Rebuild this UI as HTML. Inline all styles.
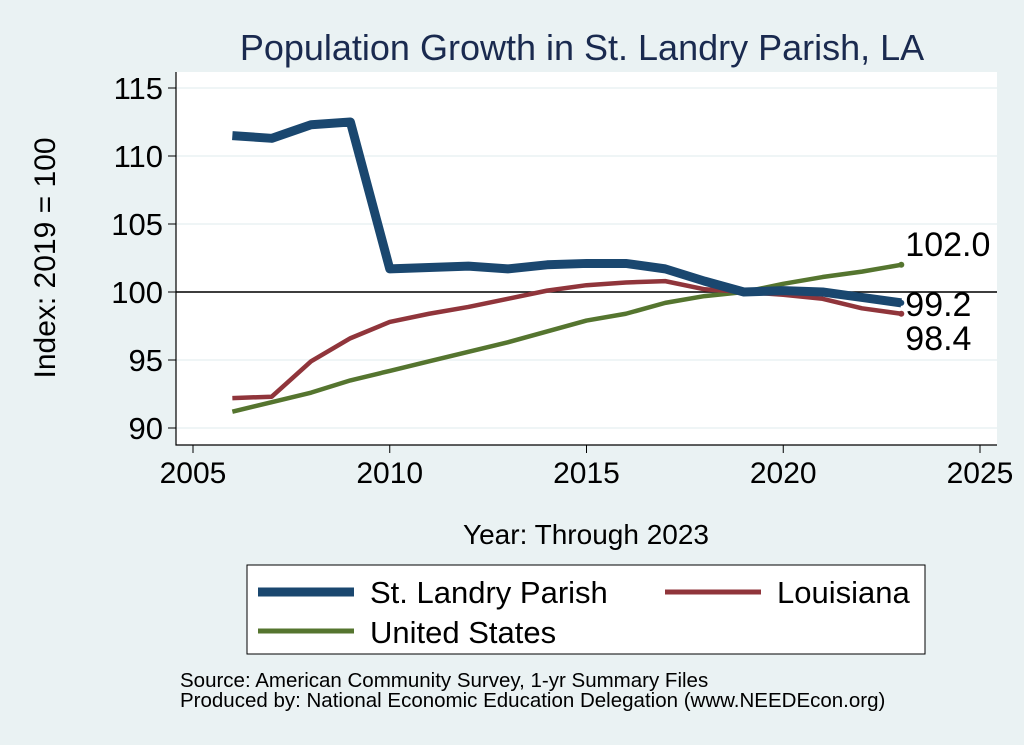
<!DOCTYPE html>
<html><head><meta charset="utf-8"><style>
body{margin:0;background:#eaf2f3;font-family:"Liberation Sans",sans-serif}
svg{display:block}
</style></head><body>
<svg id="c" width="1024" height="745">
<rect width="1024" height="745" fill="#eaf2f3"/>
<text x="582" y="60" font-size="36" fill="#1a2a4f" text-anchor="middle">Population Growth in St. Landry Parish, LA</text>
<rect x="176" y="72" width="821" height="373" fill="#fff"/>
<g id="grid"></g><g id="axes"></g><g id="series"></g>
<text transform="translate(55,258) rotate(-90)" font-size="30" text-anchor="middle">Index: 2019 = 100</text>
<text x="586" y="544" font-size="28" text-anchor="middle">Year: Through 2023</text>
<g>
<rect x="247" y="565" width="678" height="89" fill="#fff" stroke="#000" stroke-width="1"/>
<line x1="258" y1="592" x2="354" y2="592" stroke="#1a476f" stroke-width="9"/>
<text x="370" y="603" font-size="31">St. Landry Parish</text>
<line x1="665" y1="592" x2="761" y2="592" stroke="#90353b" stroke-width="5"/>
<text x="777" y="603" font-size="31">Louisiana</text>
<line x1="258" y1="631" x2="354" y2="631" stroke="#55752f" stroke-width="5"/>
<text x="370" y="643" font-size="31">United States</text>
</g>
<text x="180" y="687" font-size="20.5">Source: American Community Survey, 1-yr Summary Files</text>
<text x="180" y="707" font-size="20.5">Produced by: National Economic Education Delegation (www.NEEDEcon.org)</text>
</svg>
<script>
const years=[2006,2007,2008,2009,2010,2011,2012,2013,2014,2015,2016,2017,2018,2019,2020,2021,2022,2023];
const stLandry=[111.5,111.3,112.3,112.5,101.7,101.8,101.9,101.7,102.0,102.1,102.1,101.7,100.8,100.0,100.1,100.0,99.6,99.2];
const louisiana=[92.2,92.3,94.9,96.6,97.8,98.4,98.9,99.5,100.1,100.5,100.7,100.8,100.2,100.0,99.8,99.5,98.8,98.4];
const unitedStates=[91.2,91.9,92.6,93.5,94.2,94.9,95.6,96.3,97.1,97.9,98.4,99.2,99.7,100.0,100.6,101.1,101.5,102.0];
const xTicks=[2005,2010,2015,2020,2025];
const yTicks=[90,95,100,105,110,115];
const NS="http://www.w3.org/2000/svg";
const X=v=>193+(v-2005)*(980-193)/20;
const Y=v=>428-(v-90)*(428-88)/25;
function mk(tag,attrs,parent,txt){const e=document.createElementNS(NS,tag);for(const k in attrs)e.setAttribute(k,attrs[k]);if(txt!==undefined)e.textContent=txt;document.getElementById(parent).appendChild(e);return e;}
yTicks.forEach(t=>{
 const g=mk('line',{x1:176,x2:997,y1:Y(t),y2:Y(t),stroke:'#eaf2f3','stroke-width':1.5},'grid');
 
 
 const tk=mk('line',{x1:168,x2:176,y1:Y(t),y2:Y(t),stroke:'#000'},'axes');
 
 
 const l=mk('text',{x:163,y:Y(t)+11,'font-size':31,'text-anchor':'end'},'axes',t);
 
 
});
xTicks.forEach(t=>{
 const tk=mk('line',{x1:X(t),x2:X(t),y1:445,y2:453,stroke:'#000'},'axes');
 
 
 const l=mk('text',{x:X(t),y:483,'font-size':30,'text-anchor':'middle'},'axes',t);
 
 
});
const ax=mk('path',{d:'M176 72V445H997',fill:'none',stroke:'#000','stroke-width':1.2},'axes');


const ref=mk('line',{x1:176,x2:997,y1:Y(100),y2:Y(100),stroke:'#000','stroke-width':1.5},'axes');


function series(vals,color,w,name,dy){
 const d=vals.map((v,i)=>(i?'L':'M')+X(years[i])+' '+Y(v)).join('');
 const p=mk('path',{d:d,fill:'none',stroke:color,'stroke-width':w,'stroke-linejoin':'round'},'series');
 
 
 const last=vals[vals.length-1];
 const c=mk('circle',{cx:X(years[years.length-1]),cy:Y(last),r:3,fill:color},'series');
 
 
 const t=mk('text',{x:X(years[years.length-1])+4,y:Y(last)+dy,'font-size':34},'series',last.toFixed(1));
 
 
}
series(unitedStates,'#55752f',4.5,'united-states',-9);
series(louisiana,'#90353b',4.5,'louisiana',36);
series(stLandry,'#1a476f',9,'st-landry',13);
</script>
</body></html>
